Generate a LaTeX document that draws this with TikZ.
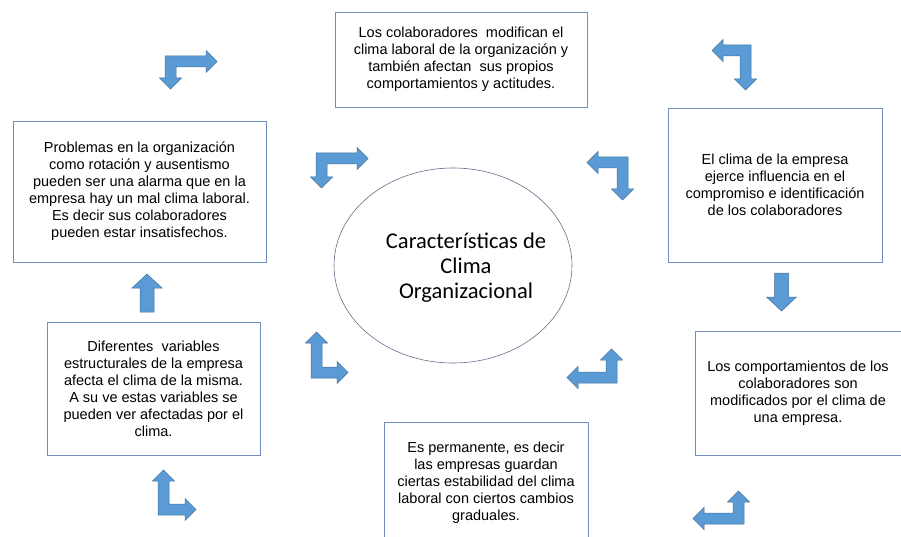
\documentclass[tikz,border=0pt]{standalone}
\usepackage{fontspec}
\setmainfont{Liberation Sans}
\newfontfamily\calibri{Carlito}
\usetikzlibrary{shapes,positioning}

\definecolor{arrowfill}{RGB}{91,155,213}
\definecolor{arrowline}{RGB}{65,113,156}
\definecolor{boxline}{RGB}{112,142,186}
\definecolor{ovalline}{RGB}{96,112,140}

% corner x, corner y, x direction, y direction, horizontal arm, vertical arm
\newcommand{\bentarrow}[6]{%
  \begin{scope}[shift={(#1,#2)}, xscale=#3, yscale=#4]
    \filldraw[barrow] (0,0) -- (#5-11,0) -- (#5-11,-5.5) -- (#5,5.5) -- (#5-11,16.5) -- (#5-11,11)
      -- (11,11) -- (11,#6-11) -- (16.5,#6-11) -- (5.5,#6) -- (-5.5,#6-11) -- (0,#6-11) -- cycle;
  \end{scope}}
% x, tail y, direction, length
\newcommand{\straightarrow}[4]{%
  \begin{scope}[shift={(#1,#2)}, yscale=#3]
    \filldraw[barrow] (-7,0) -- (-7,#4-14) -- (-15,#4-14) -- (0,#4) -- (15,#4-14) -- (7,#4-14) -- (7,0) -- cycle;
  \end{scope}}

\begin{document}
\begin{tikzpicture}[
    x=1pt, y=-1pt,
    box/.style={rectangle, draw=boxline, line width=0.8pt, align=center, inner sep=0pt,
      font=\fontsize{14.5}{17}\selectfont},
    barrow/.style={fill=arrowfill, draw=arrowline, line width=0.5pt, line join=miter},
    oval/.style={ellipse, draw=ovalline, line width=0.6pt, inner sep=0pt,
      minimum width=238pt, minimum height=195pt},
    title/.style={align=center, inner sep=0pt, font=\calibri\fontsize{22.5}{25}\selectfont}
]
\useasboundingbox (0,0) rectangle (901,537);

% Centre
\node[oval] (clima) at (453,265.5) {};
\node[title] (climatext) at (466,268) {Características de\\Clima\\Organizacional};

% Boxes
\node[box, minimum width=252pt, minimum height=95pt] (modifican) at (461,59.5)
  {Los colaboradores\ \ modifican el\\clima laboral de la organización y\\también afectan\ \ sus propios\\comportamientos y actitudes.};
\node[box, minimum width=253pt, minimum height=141pt] (problemas) at (139.5,191.5)
  {Problemas en la organización\\como rotación y ausentismo\\pueden ser una alarma que en la\\empresa hay un mal clima laboral.\\Es decir sus colaboradores\\pueden estar insatisfechos.};
\node[box, minimum width=214pt, minimum height=154pt] (influencia) at (775,185)
  {El clima de la empresa\\ejerce influencia en el\\compromiso e identificación\\de los colaboradores};
\node[box, minimum width=213pt, minimum height=133pt] (variables) at (153.5,388.5)
  {Diferentes\ \ variables\\estructurales de la empresa\\afecta el clima de la misma.\\A su ve estas variables se\\pueden ver afectadas por el\\clima.};
\node[box, minimum width=204pt, minimum height=121pt] (permanente) at (486,482.5)
  {Es permanente, es decir\\las empresas guardan\\ciertas estabilidad del clima\\laboral con ciertos cambios\\graduales.};
\node[box, minimum width=206pt, minimum height=124pt] (comportamientos) at (798,393)
  {Los comportamientos de los\\colaboradores son\\modificados por el clima de\\una empresa.};

% Arrows
\bentarrow{165}{56}{1}{1}{52}{33}
\bentarrow{316}{153}{1}{1}{52}{35}
\bentarrow{751}{45}{-1}{1}{39}{45}
\bentarrow{628}{157}{-1}{1}{41}{43}
\bentarrow{311}{378}{1}{-1}{37}{46}
\bentarrow{617}{383}{-1}{-1}{50}{34}
\bentarrow{158}{515}{1}{-1}{38}{45}
\bentarrow{744}{524}{-1}{-1}{51}{33}
\straightarrow{147}{312}{-1}{38}
\straightarrow{781.5}{273}{1}{38}

\end{tikzpicture}
\end{document}
